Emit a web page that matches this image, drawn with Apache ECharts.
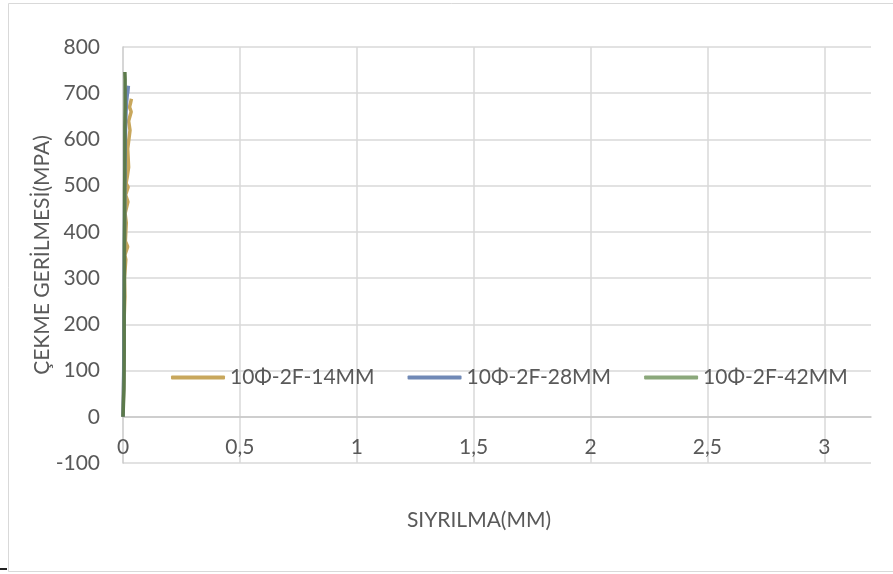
<!DOCTYPE html>
<html>
<head>
<meta charset="utf-8">
<script src="https://cdn.jsdelivr.net/npm/echarts@6/dist/echarts.min.js"></script>
<style>
  html, body { margin: 0; padding: 0; background: #ffffff; }
  #chart { width: 893px; height: 574px; }
</style>
</head>
<body>
<div id="chart"></div>
<script>
// Series names (bar diameter, anchorage, embedment length)
const seriesNames = ['10Φ-2F-14MM', '10Φ-2F-28MM', '10Φ-2F-42MM'];

// 14 mm specimen: slip (mm) and tensile stress (MPa)
const slip14 = [0, 0.003, 0.005, 0.004, 0.008, 0.006, 0.012, 0.008, 0.020, 0.010, 0.014, 0.009, 0.021, 0.011, 0.022, 0.013, 0.018, 0.015, 0.024, 0.020, 0.030, 0.024, 0.035, 0.028, 0.036, 0.031];
const stress14 = [0, 80, 160, 200, 260, 300, 340, 350, 368, 380, 420, 440, 465, 480, 497, 505, 519, 523, 540, 580, 620, 640, 660, 670, 688, 676];

// 28 mm specimen
const slip28 = [0, 0.003, 0.004, 0.005, 0.006, 0.007, 0.008, 0.009, 0.010, 0.011, 0.013, 0.015, 0.018, 0.021, 0.023, 0.020];
const stress28 = [0, 100, 200, 300, 380, 450, 510, 560, 600, 630, 660, 680, 695, 708, 716, 700];

// 42 mm specimen
const slip42 = [0, 0.004, 0.005, 0.005, 0.006, 0.006, 0.007, 0.007, 0.008, 0.008, 0.008, 0.009, 0.009, 0.009, 0.008];
const stress42 = [0, 60, 140, 220, 300, 370, 430, 490, 540, 590, 630, 670, 700, 730, 746];

// Axis ranges and tick steps
const xRange = [0, 3.2];
const xStep = 0.5;
const yRange = [-100, 800];
const yStep = 100;

const lineColors = ['#C8A75C', '#7089B6', '#5C7A4B'];
const legendColors = ['#C8A75C', '#7089B6', '#8BA87B'];

const textColor = '#595959';
const gridColor = '#D9D9D9';
const fontFamily = 'Lato, "Open Sans", sans-serif';
const fontSize = 21;

// plot rectangle
const gridTop = 47;
const gridBottom = 111;
const gridHeight = 574 - gridTop - gridBottom;
// the horizontal axis crosses the vertical one at stress 0
const xAxisShift = gridHeight * (0 - yRange[0]) / (yRange[1] - yRange[0]);

function pairs(xs, ys) {
  return xs.map((x, i) => [x, ys[i]]);
}

const chart = echarts.init(document.getElementById('chart'), null, { renderer: 'canvas' });

const seriesData = [pairs(slip14, stress14), pairs(slip28, stress28), pairs(slip42, stress42)];

chart.setOption({
  backgroundColor: '#ffffff',
  animation: false,
  textStyle: { fontFamily: fontFamily, color: textColor },
  grid: { left: 123, right: 22, top: gridTop, bottom: gridBottom, containLabel: false, outerBoundsMode: 'none' },
  legend: {
    left: 166,
    top: 362,
    icon: 'roundRect',
    itemWidth: 54,
    itemHeight: 4,
    itemGap: 33,
    textStyle: { fontSize: fontSize, color: textColor, fontFamily: fontFamily },
    data: seriesNames.map((n, i) => ({
      name: n,
      itemStyle: { color: legendColors[i] }
    }))
  },
  xAxis: {
    type: 'value',
    min: xRange[0],
    max: xRange[1],
    interval: xStep,
    position: 'bottom',
    offset: -xAxisShift,
    name: 'SIYRILMA(MM)',
    nameLocation: 'middle',
    nameGap: 93,
    nameMoveOverlap: false,
    nameTextStyle: { fontSize: fontSize, color: textColor, padding: [0, 36, 0, 0] },
    axisLine: { show: true, onZero: false, lineStyle: { color: '#C8C8C8', width: 1.5 } },
    axisTick: { show: false },
    axisLabel: {
      fontSize: fontSize,
      color: textColor,
      margin: 20,
      showMaxLabel: false,
      formatter: v => String(v).replace('.', ',')
    },
    splitLine: { show: true, showMinLine: false, showMaxLine: false, lineStyle: { color: gridColor, width: 1.5 } }
  },
  yAxis: {
    type: 'value',
    min: yRange[0],
    max: yRange[1],
    interval: yStep,
    name: 'ÇEKME GERİLMESİ(MPA)',
    nameLocation: 'middle',
    nameRotate: 90,
    nameGap: 70,
    nameMoveOverlap: false,
    nameTextStyle: { fontSize: fontSize, color: textColor },
    axisLine: { show: true, onZero: false, lineStyle: { color: '#C8C8C8', width: 1.5 } },
    axisTick: { show: false },
    axisLabel: { fontSize: fontSize, color: textColor, margin: 23 },
    splitLine: { show: true, lineStyle: { color: gridColor, width: 1.5 } }
  },
  series: seriesNames.map((n, i) => ({
    name: n,
    type: 'line',
    data: seriesData[i],
    showSymbol: false,
    symbol: 'none',
    clip: false,
    lineStyle: { color: lineColors[i], width: 3.5 },
    itemStyle: { color: lineColors[i] },
    z: 3 + i
  })),
  graphic: [
    {
      type: 'rect',
      silent: true,
      shape: { x: 8.5, y: 3.5, width: 900, height: 568 },
      style: { fill: 'none', stroke: '#D9D9D9', lineWidth: 1 },
      z: -1
    },
    {
      type: 'rect',
      silent: true,
      shape: { x: 0, y: 568, width: 7, height: 2 },
      style: { fill: '#222222' }
    }
  ]
});
</script>
</body>
</html>
